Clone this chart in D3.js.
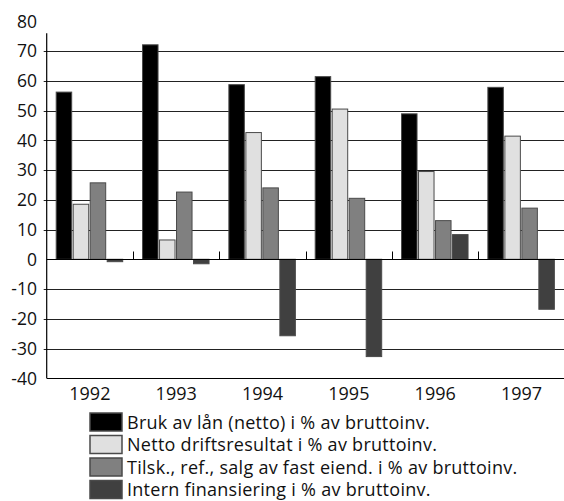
<!DOCTYPE html>
<html>
<head>
<meta charset="utf-8">
<script src="https://d3js.org/d3.v7.min.js"></script>
<style>
  body { margin: 0; background: #fff; }
  text { font-family: "Open Sans", sans-serif; fill: #111; }
</style>
</head>
<body>
<div id="chart"></div>
<script>
// data
var years = ["1992", "1993", "1994", "1995", "1996", "1997"];
var seriesNames = [
    "Bruk av lån (netto) i % av bruttoinv.",
    "Netto driftsresultat i % av bruttoinv.",
    "Tilsk., ref., salg av fast eiend. i % av bruttoinv.",
    "Intern finansiering i % av bruttoinv."
];
var brukAvLan = [56.2, 72.1, 58.7, 61.4, 48.9, 57.8];
var nettoDrift = [18.5, 6.5, 42.6, 50.5, 29.5, 41.4];
var tilskudd = [25.7, 22.6, 24.0, 20.5, 13.0, 17.2];
var internFin = [-0.8, -1.5, -25.7, -32.7, 8.3, -16.8];
var yTicks = [80, 70, 60, 50, 40, 30, 20, 10, 0, -10, -20, -30, -40];
var colours = ["#000000", "#e0e0e0", "#808080", "#404040"];

var allSeries = [brukAvLan, nettoDrift, tilskudd, internFin];

var width = 564, height = 501;
var left = 46.7, right = 564.7;

var svg = d3.select("#chart")
    .append("svg")
    .attr("width", width)
    .attr("height", height);

var y = d3.scaleLinear().domain([-40, 80]).range([378.3, 21.3]);
var x = d3.scaleBand().domain(years).range([left, right]);
var xs = d3.scaleBand().domain(d3.range(4)).range([9, 9 + 68]);

// gridlines
svg.selectAll("line.grid")
    .data(yTicks.filter(function (d) { return d < 80 && d > -40 && d != 0; }))
    .enter()
    .append("line")
    .attr("x1", left - 3)
    .attr("x2", width)
    .attr("y1", function (d) { return Math.round(y(d)) + 0.5; })
    .attr("y2", function (d) { return Math.round(y(d)) + 0.5; })
    .style("stroke", "#222")
    .style("stroke-width", 1);

// bars
var rows = [];
years.forEach(function (yr, i) {
    allSeries.forEach(function (s, k) {
        rows.push({year: yr, k: k, v: s[i]});
    });
});

svg.selectAll("rect.bar")
    .data(rows)
    .enter()
    .append("rect")
    .attr("x", function (d) { return x(d.year) + xs(d.k) + 0.5; })
    .attr("width", xs.bandwidth() - 1.5)
    .attr("y", function (d) { return y(Math.max(0, d.v)); })
    .attr("height", function (d) { return Math.abs(y(d.v) - y(0)); })
    .style("fill", function (d) { return colours[d.k]; })
    .style("stroke", "#4a4a4a")
    .style("stroke-width", 1);

// zero line and category ticks
var y0 = Math.round(y(0)) + 0.5;
svg.append("line")
    .attr("x1", left).attr("x2", width)
    .attr("y1", y0).attr("y2", y0)
    .style("stroke", "#000").style("stroke-width", 1.2);

svg.selectAll("line.ctick")
    .data(years.slice(1))
    .enter()
    .append("line")
    .attr("x1", function (d) { return Math.round(x(d)) + 0.5; })
    .attr("x2", function (d) { return Math.round(x(d)) + 0.5; })
    .attr("y1", y0).attr("y2", y0 - 8)
    .style("stroke", "#000");

// left axis and bottom line
svg.append("line")
    .attr("x1", left).attr("x2", left)
    .attr("y1", y(76)).attr("y2", y(-40))
    .style("stroke", "#000").style("stroke-width", 1.2);
svg.append("line")
    .attr("x1", left).attr("x2", width)
    .attr("y1", Math.round(y(-40)) + 0.5).attr("y2", Math.round(y(-40)) + 0.5)
    .style("stroke", "#000").style("stroke-width", 1.2);

// y labels
svg.selectAll("text.ylab")
    .data(yTicks)
    .enter()
    .append("text")
    .attr("x", 37)
    .attr("y", function (d) { return y(d); })
    .attr("dy", "0.36em")
    .attr("text-anchor", "end")
    .style("font-size", "17.5px")
    .text(function (d) { return d; });

// x labels
svg.selectAll("text.xlab")
    .data(years)
    .enter()
    .append("text")
    .attr("x", function (d) { return x(d) + x.bandwidth() / 2; })
    .attr("y", 399.5)
    .attr("text-anchor", "middle")
    .style("font-size", "18px")
    .text(function (d) { return d; });

// legend
var legend = svg.selectAll("g.leg")
    .data(seriesNames)
    .enter()
    .append("g")
    .attr("transform", function (d, i) { return "translate(90," + (413 + i * 22.5) + ")"; });

legend.append("rect")
    .attr("width", 32)
    .attr("height", 18)
    .style("fill", function (d, i) { return colours[i]; })
    .style("stroke", "#4a4a4a")
    .style("stroke-width", 1.5);

legend.append("text")
    .attr("x", 37)
    .attr("y", 15.5)
    .style("font-size", "18px")
    .style("letter-spacing", "0.27px")
    .text(function (d) { return d; });
</script>
</body>
</html>
